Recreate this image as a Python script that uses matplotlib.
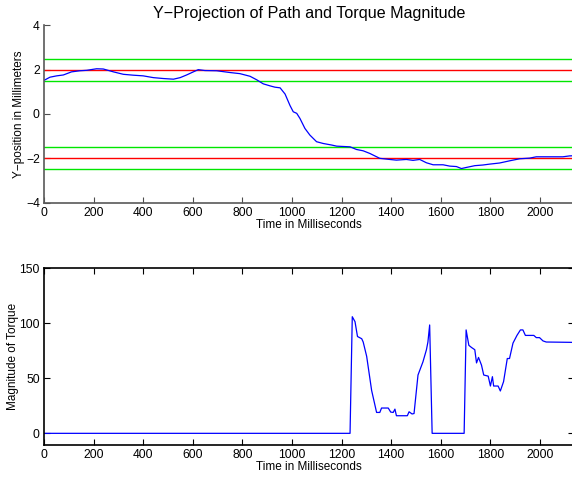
import matplotlib
matplotlib.use("Agg")
import matplotlib.pyplot as plt
import numpy as np

plt.rcParams['font.family'] = ['Liberation Sans', 'DejaVu Sans']

# Y-projection of the path (ms, mm)
path_t = [0, 4, 24, 51, 78, 111, 145, 172, 212, 239, 280, 320, 360, 400, 441, 481,
          522, 549, 575, 602, 622, 649, 696, 750, 790, 831, 858, 884, 911, 931, 952,
          972, 992, 1005, 1019, 1032, 1052, 1072, 1099, 1126, 1160, 1180, 1234, 1260,
          1287, 1314, 1354, 1394, 1421, 1461, 1488, 1515, 1542, 1569, 1609, 1636,
          1663, 1683, 1703, 1737, 1770, 1797, 1837, 1878, 1918, 1958, 1985, 2025,
          2092, 2119, 2140]
path_y = [1.52, 1.54, 1.66, 1.72, 1.76, 1.90, 1.95, 1.97, 2.04, 2.03, 1.90, 1.79,
          1.75, 1.72, 1.64, 1.60, 1.57, 1.64, 1.76, 1.90, 2.00, 1.96, 1.95, 1.87,
          1.82, 1.70, 1.54, 1.36, 1.27, 1.21, 1.18, 0.90, 0.38, 0.10, 0.03, -0.20,
          -0.65, -0.95, -1.25, -1.33, -1.40, -1.45, -1.48, -1.60, -1.66, -1.78,
          -2.00, -2.05, -2.08, -2.05, -2.09, -2.05, -2.20, -2.29, -2.29, -2.35,
          -2.37, -2.46, -2.41, -2.33, -2.30, -2.26, -2.21, -2.11, -2.02, -1.99,
          -1.93, -1.93, -1.93, -1.89, -1.88]

# reference bands
red_levels = [2, -2]
green_levels = [2.5, 1.5, -1.5, -2.5]

# torque magnitude
torque_t = [0, 1234, 1243, 1254, 1264, 1281, 1287, 1301, 1321, 1341, 1354, 1361,
            1388, 1398, 1408, 1415, 1421, 1465, 1472, 1484, 1492, 1508, 1528, 1542,
            1548, 1555, 1565, 1694, 1702, 1713, 1724, 1737, 1744, 1752, 1764, 1773,
            1791, 1800, 1808, 1813, 1831, 1840, 1853, 1868, 1877, 1891, 1907, 1921,
            1931, 1941, 1975, 1985, 1998, 2012, 2025, 2127, 2140]
torque = [0, 0, 106, 101.5, 88, 86, 83, 70, 39, 19, 19, 23, 23, 19.3, 19, 22, 16,
          16, 19.6, 17.6, 18, 53, 65, 76, 83, 98.5, 0, 0, 94, 80, 78, 76, 64, 69,
          62, 53, 52, 43, 51.5, 43, 43, 38.5, 47, 68, 68, 82, 89, 94, 94, 89, 89,
          87, 87, 84, 83, 82.7, 82.5]

xticks = np.arange(0, 2001, 200)

fig = plt.figure(figsize=(5.72, 4.8), dpi=100)
W, H = 572, 480
left = 44 / W
width = 530 / W

# top panel
ax1 = fig.add_axes([left, 1 - 202.7 / H, width, 177.4 / H])
for lv in green_levels:
    ax1.axhline(lv, color=(0, 0.9, 0), lw=1.0)
for lv in red_levels:
    ax1.axhline(lv, color=(1, 0, 0), lw=1.0)
ax1.plot(path_t, path_y, color=(0, 0, 1), lw=0.9)
ax1.set_xlim(0, 2137)
ax1.set_ylim(-4, 4)
ax1.set_xticks(xticks)
ax1.set_yticks([-4, -2, 0, 2, 4])
ax1.set_yticklabels(['\u22124', '\u22122', '0', '2', '4'])
ax1.spines['top'].set_visible(False)
ax1.spines['right'].set_visible(False)
for s in ['left', 'bottom']:
    ax1.spines[s].set_color('0.35')
    ax1.spines[s].set_linewidth(1.2)
ax1.tick_params(direction='in', length=4, width=0.8, color='0.3', labelsize=8.7, pad=3)
ax1.set_xlabel('Time in Milliseconds', fontsize=8.5, labelpad=0)
ax1.set_ylabel('Y\u2212position in Millimeters', fontsize=8.5, labelpad=0.5)
ax1.set_title('Y\u2212Projection of Path and Torque Magnitude', fontsize=11.6, pad=5)

# bottom panel
ax2 = fig.add_axes([left, 1 - 445 / H, width, 176.7 / H])
ax2.plot(torque_t, torque, color=(0, 0, 1), lw=0.9)
ax2.set_xlim(0, 2137)
ax2.set_ylim(-10.6, 150)
ax2.set_xticks(xticks)
ax2.set_yticks([0, 50, 100, 150])
for s in ax2.spines.values():
    s.set_color('black')
    s.set_linewidth(1.2)
ax2.tick_params(direction='in', length=4, width=0.8, labelsize=8.7, pad=3,
                top=True, right=True)
ax2.set_xlabel('Time in Milliseconds', fontsize=8.5, labelpad=0)
ax2.set_ylabel('Magnitude of Torque', fontsize=8.5, labelpad=0)

fig.savefig('out.png', dpi=100)
